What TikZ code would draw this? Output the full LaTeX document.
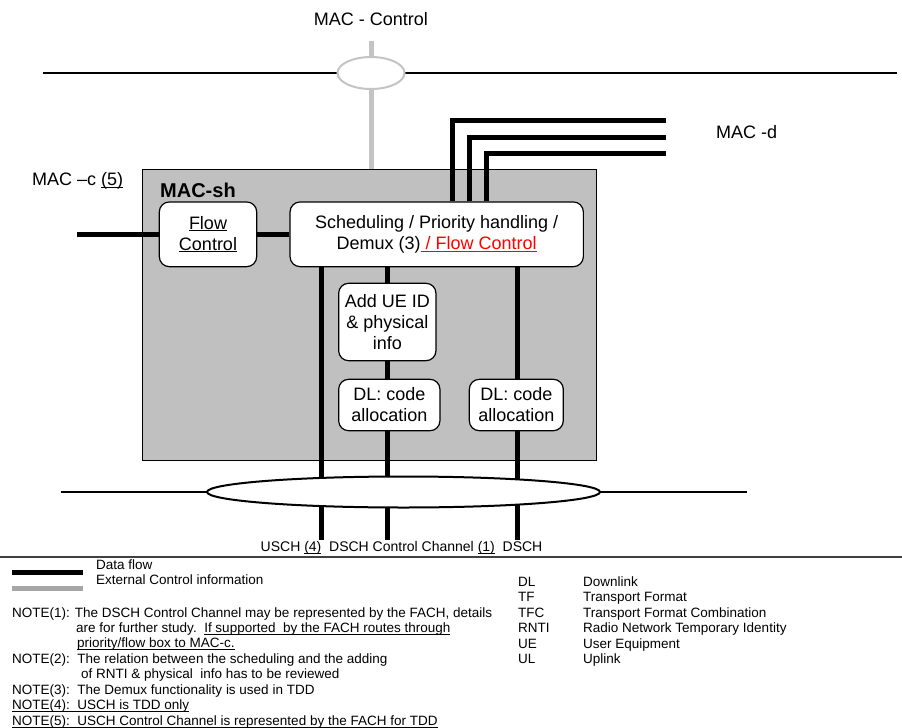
\documentclass[tikz,border=0pt]{standalone}
\usepackage{fontspec}
\setmainfont{Liberation Sans}
\usepackage{tikz}
\usetikzlibrary{arrows,positioning,shapes.geometric}
\definecolor{shgray}{HTML}{C0C0C0}
\definecolor{ctrlgray}{HTML}{C4C4C4}
\definecolor{leggray}{HTML}{A6A6A6}
\definecolor{rulegray}{HTML}{404040}
\newcommand{\bigtxt}{\fontsize{18}{21}\selectfont}
\newcommand{\smalltxt}{\fontsize{13.5}{15.5}\selectfont}
\newsavebox{\ulbox}
\newcommand{\undl}[1]{\sbox{\ulbox}{#1}\rlap{\rule[-0.13em]{\wd\ulbox}{0.065em}}\usebox{\ulbox}}

\begin{document}
\begin{tikzpicture}[x=1pt,y=-1pt]
\tikzstyle{fn}=[draw, line width=1.2pt, rounded corners=10pt, fill=white, align=center, inner sep=0pt, font=\bigtxt]
\tikzstyle{data}=[line width=5pt]
\tikzstyle{ctrl}=[line width=5pt, draw=ctrlgray]
\tikzstyle{bus}=[line width=2pt]
\tikzstyle{lbl}=[inner sep=0pt, anchor=west, font=\bigtxt]
\tikzstyle{note}=[inner sep=0pt, anchor=base west, font=\smalltxt]
\useasboundingbox (0,0) rectangle (902,728);

% MAC-Control on the top bus
\node[inner sep=0pt, font=\bigtxt] (macctrl) at (371,19) {MAC - Control};
\coordinate (ctop) at (371,41);
\coordinate (busL) at (43,73);
\coordinate (busR) at (897,73);
\draw[bus] (busL) -- (busR);
\node[ellipse, draw=ctrlgray, line width=2pt, fill=white, minimum width=67, minimum height=32] (cell) at (371,73) {};

% MAC-sh
\node[draw, fill=shgray, line width=1pt, minimum width=454, minimum height=291, inner sep=0pt] (macsh) at (369.7,314.7) {};
\node[lbl, font=\fontsize{20}{24}\selectfont\bfseries] (shname) at (160,190.7) {MAC-sh};
\draw[ctrl] (ctop) -- (cell);
\draw[ctrl] (cell) -- (macsh.north -| cell);

\node[fn, minimum width=97.4, minimum height=64.7] (flow) at (208,234.3) {\undl{Flow}\\\undl{Control}};
\node[fn, minimum width=293.3, minimum height=64.7] (sched) at (436.7,234.3) {Scheduling / Priority handling /\\Demux (3)\textcolor{red}{\undl{ / Flow Control}}};
\node[fn, minimum width=97.3, minimum height=77.4] (addue) at (387.3,322) {Add UE ID\\\& physical\\info};
\node[fn, minimum width=101.3, minimum height=51.4] (code1) at (389.3,405) {DL: code\\allocation};
\node[fn, minimum width=94, minimum height=51.4] (code2) at (516.3,405) {DL: code\\allocation};

% MAC-c and MAC-d
\node[lbl] (macc) at (32,181) {MAC –c \undl{(5)}};
\coordinate (cin) at (77.3,234.3);
\draw[data] (cin) -- (flow);
\draw[data] (flow) -- (sched);
\node[lbl] (macd) at (716,132) {MAC -d};
\foreach \x/\y [count=\i] in {452.7/120.7, 469/137.7, 486/153.3} {
  \coordinate (d\i) at (666,\y);
  \draw[data] (sched.north -| \x,0) |- (d\i);
}

% transport channels
\coordinate (usch) at (321.7,540);
\coordinate (dcch) at (387.7,540);
\coordinate (dsch) at (517.7,540);
\draw[data] (sched.south -| usch) -- (usch);
\draw[data] (sched.south -| dcch) -- (addue.north -| dcch);
\draw[data] (addue.south -| dcch) -- (code1.north -| dcch);
\draw[data] (code1.south -| dcch) -- (dcch);
\draw[data] (sched.south -| dsch) -- (code2.north -| dsch);
\draw[data] (code2.south -| dsch) -- (dsch);
\coordinate (bL) at (60.7,492);
\coordinate (bR) at (746.7,492);
\draw[bus] (bL) -- (bR);
\node[ellipse, draw, line width=2pt, fill=white, minimum width=393, minimum height=31] (tch) at (403.5,492) {};
\node[lbl, font=\fontsize{14}{16}\selectfont] (chan) at (260.5,548) {USCH \undl{(4)}\ \ DSCH Control Channel \undl{(1)}\ \ DSCH};

% legend and notes
\draw[line width=2pt, rulegray] (0,556.7) -- (902,556.7);
\draw[data] (12,572.7) -- (83,572.7);
\draw[line width=5pt, leggray] (12,588.7) -- (83,588.7);
\node[lbl, font=\smalltxt] (legdata) at (96,565) {Data flow};
\node[lbl, font=\smalltxt] (legctrl) at (96,580) {External Control information};
\node[note] (n1) at (12,617.5) {NOTE(1): The DSCH Control Channel may be represented by the FACH, details};
\node[note] (n1b) at (76,632.8) {are for further study.\ \ \undl{If supported\ \ by the FACH routes through}};
\node[note] (n1c) at (77,647.8) {\undl{priority/flow box to MAC-c.}};
\node[note] (n2) at (12,663.8) {NOTE(2):\ \ The relation between the scheduling and the adding};
\node[note] (n2b) at (81,678.8) {of RNTI \& physical\ \ info has to be reviewed};
\node[note] (n3) at (12,694.8) {NOTE(3):\ \ The Demux functionality is used in TDD};
\node[note] (n4) at (12,709.8) {\undl{NOTE(4):\ \ USCH is TDD only}};
\node[note] (n5) at (12,725.8) {\undl{NOTE(5):\ \ USCH Control Channel is represented by the FACH for TDD}};
\node[note, align=left] (abbr) at (518,663.8) {\makebox[65pt][l]{DL}Downlink\\
\makebox[65pt][l]{TF}Transport Format\\
\makebox[65pt][l]{TFC}Transport Format Combination\\
\makebox[65pt][l]{RNTI}Radio Network Temporary Identity\\
\makebox[65pt][l]{UE}User Equipment\\
\makebox[65pt][l]{UL}Uplink};
\end{tikzpicture}
\end{document}
